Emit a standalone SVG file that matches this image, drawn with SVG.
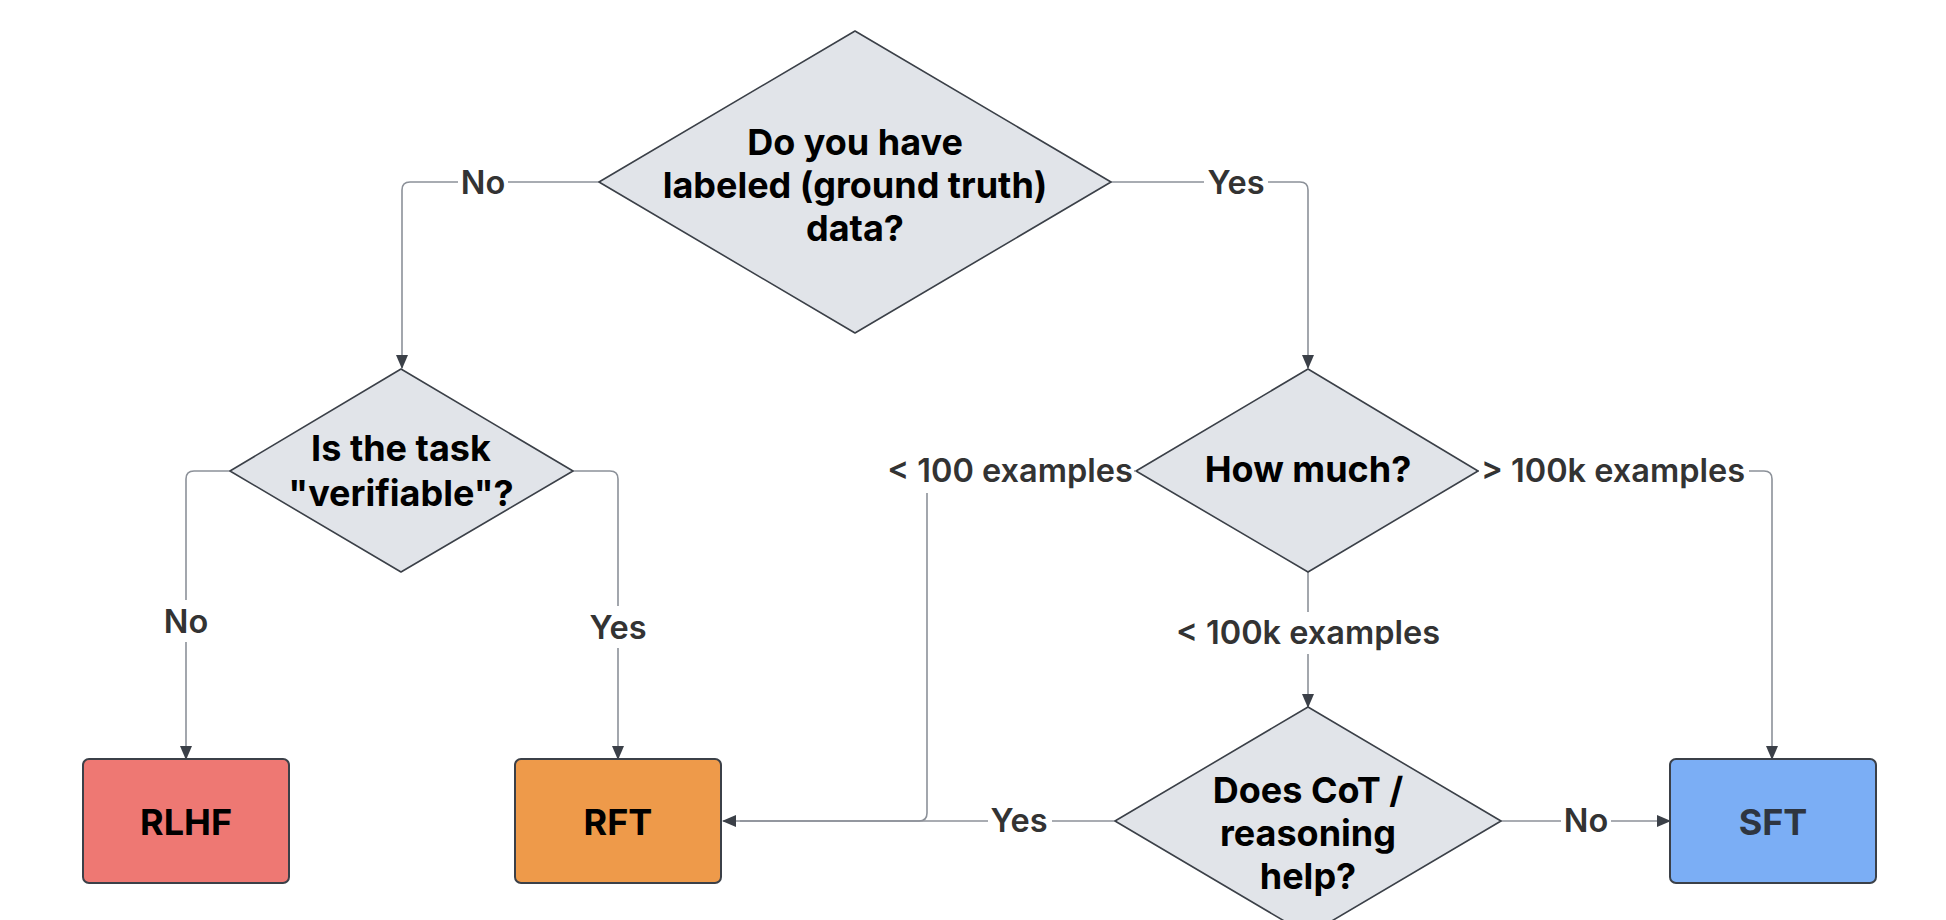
<svg xmlns="http://www.w3.org/2000/svg" width="1946" height="920" viewBox="0 0 1946 920">
<style>
.dia{fill:#E1E4E9;stroke:#3B4048;stroke-width:1.6;stroke-linejoin:round}
.box{stroke:#3B4048;stroke-width:2}
.mt{font-family:Inter,"Liberation Sans",sans-serif;font-weight:700;font-size:36px;fill:#000;text-anchor:middle}
.lb{font-family:Inter,"Liberation Sans",sans-serif;font-weight:600;font-size:32.5px;fill:#333;text-anchor:middle}
.cn{fill:none;stroke:#8C9199;stroke-width:1.6}
.bg{fill:#fff}
</style>
<defs>
<marker id="ah" markerWidth="14" markerHeight="12" refX="13" refY="6" orient="auto" markerUnits="userSpaceOnUse">
<path d="M0,0 L14,6 L0,12 Z" fill="#3B4048"/>
</marker>
</defs>
<rect width="1946" height="920" fill="#fff"/>
<g id="connectors">
<path class="cn" d="M599,182 H410 Q402,182 402,190 V368" marker-end="url(#ah)"/>
<path class="cn" d="M1111,182 H1300 Q1308,182 1308,190 V368" marker-end="url(#ah)"/>
<path class="cn" d="M230,471 H194 Q186,471 186,479 V759" marker-end="url(#ah)"/>
<path class="cn" d="M573,471 H610 Q618,471 618,479 V759" marker-end="url(#ah)"/>
<path class="cn" d="M1135,471 H935 Q927,471 927,479 V813 Q927,821 919,821 H740"/>
<path class="cn" d="M1116,821 H723" marker-end="url(#ah)"/>
<path class="cn" d="M1477,471 H1764 Q1772,471 1772,479 V759" marker-end="url(#ah)"/>
<path class="cn" d="M1308,572 V707" marker-end="url(#ah)"/>
<path class="cn" d="M1500,821 H1670" marker-end="url(#ah)"/>
</g>
<g id="labels">
<rect class="bg" x="458" y="164" width="50" height="36"/><text class="lb" x="483" y="194">No</text>
<rect class="bg" x="1204" y="164" width="64" height="36"/><text class="lb" x="1236" y="194">Yes</text>
<rect class="bg" x="161" y="600" width="50" height="42"/><text class="lb" x="186" y="633">No</text>
<rect class="bg" x="586" y="606" width="64" height="42"/><text class="lb" x="618" y="639">Yes</text>
<rect class="bg" x="884" y="451" width="250" height="42"/><text class="lb" x="1010" y="482">&lt; 100 examples</text>
<rect class="bg" x="1479" y="451" width="270" height="42"/><text class="lb" x="1613" y="482">&gt; 100k examples</text>
<rect class="bg" x="1173" y="612" width="270" height="42"/><text class="lb" x="1308" y="644">&lt; 100k examples</text>
<rect class="bg" x="988" y="803" width="64" height="36"/><text class="lb" x="1019" y="832">Yes</text>
<rect class="bg" x="1561" y="803" width="50" height="36"/><text class="lb" x="1586" y="832">No</text>
</g>
<g id="q1">
<path class="dia" d="M855,31 L1111,182 L855,333 L599,182 Z"/>
<text class="mt" x="855" y="155">Do you have</text>
<text class="mt" x="855" y="198">labeled (ground truth)</text>
<text class="mt" x="855" y="241">data?</text>
</g>
<g id="q2">
<path class="dia" d="M401,369 L573,471 L401,572 L230,471 Z"/>
<text class="mt" x="401" y="461">Is the task</text>
<text class="mt" x="401" y="506">"verifiable"?</text>
</g>
<g id="q3">
<path class="dia" d="M1308,369 L1478,471 L1308,572 L1136,471 Z"/>
<text class="mt" x="1308" y="482">How much?</text>
</g>
<g id="q4">
<path class="dia" d="M1308,707 L1501,821 L1308,935 L1115,821 Z"/>
<text class="mt" x="1308" y="803">Does CoT /</text>
<text class="mt" x="1308" y="846">reasoning</text>
<text class="mt" x="1308" y="889">help?</text>
</g>
<g id="rlhf">
<rect class="box" x="83" y="759" width="206" height="124" rx="6" fill="#EE7873"/>
<text class="mt" x="186" y="835">RLHF</text>
</g>
<g id="rft">
<rect class="box" x="515" y="759" width="206" height="124" rx="6" fill="#EE9A4A"/>
<text class="mt" x="618" y="835">RFT</text>
</g>
<g id="sft">
<rect class="box" x="1670" y="759" width="206" height="124" rx="6" fill="#7BAEF5"/>
<text class="mt" x="1773" y="835" style="fill:#2E3540">SFT</text>
</g>
</svg>
